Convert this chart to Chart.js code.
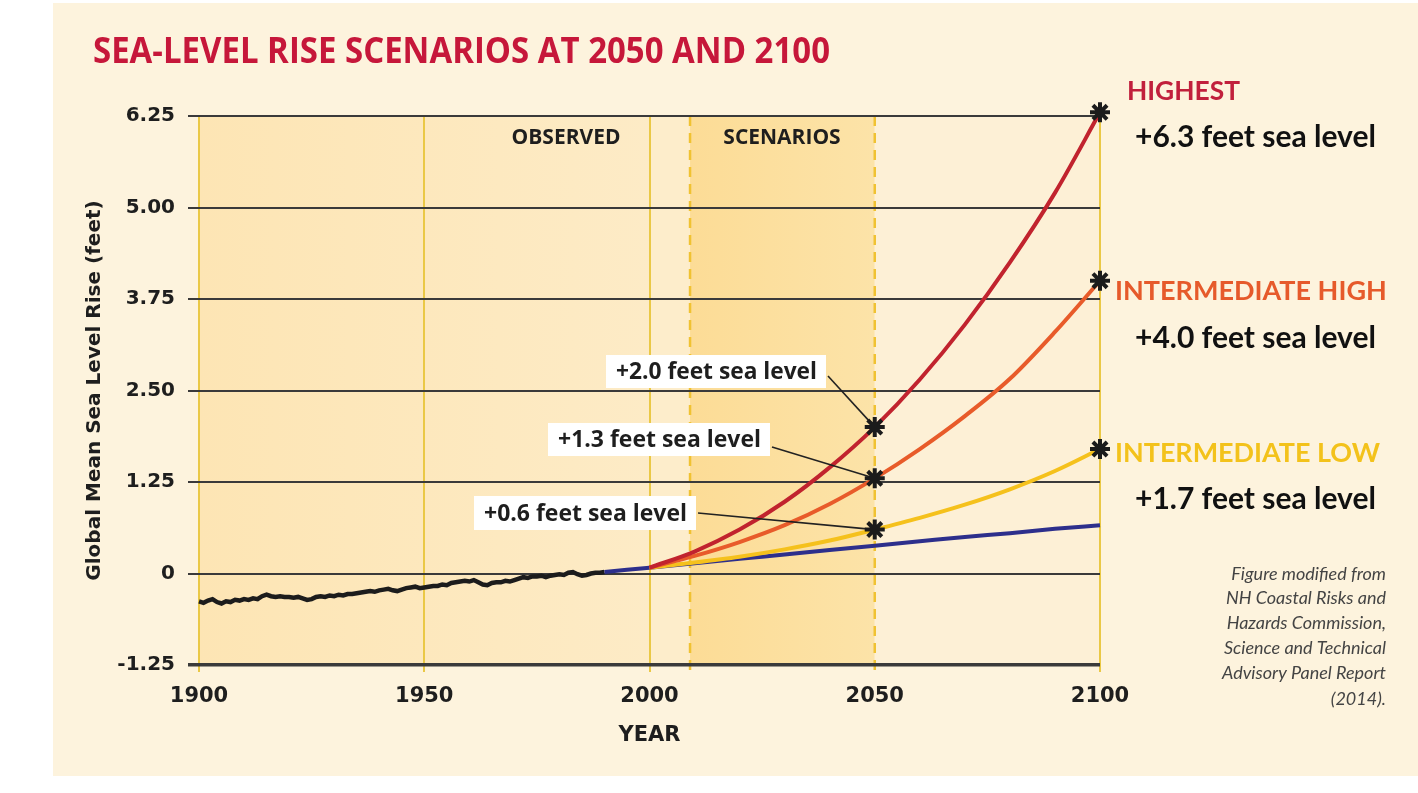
<!DOCTYPE html>
<html>
<head>
<meta charset="utf-8">
<script src="https://cdn.jsdelivr.net/npm/chart.js@4.4.1/dist/chart.umd.min.js"></script>
<style>
  html, body { margin: 0; padding: 0; background: #ffffff; }
  #wrap { width: 1418px; height: 793px; }
</style>
</head>
<body>
<div id="wrap"><canvas id="chart" width="1418" height="793"></canvas></div>
<script>
// Observed global mean sea level, 1900-1990 (feet)
const observedYears = [
  1900, 1901, 1902, 1903, 1904, 1905, 1906, 1907, 1908, 1909,
  1910, 1911, 1912, 1913, 1914, 1915, 1916, 1917, 1918, 1919,
  1920, 1921, 1922, 1923, 1924, 1925, 1926, 1927, 1928, 1929,
  1930, 1931, 1932, 1933, 1934, 1935, 1936, 1937, 1938, 1939,
  1940, 1941, 1942, 1943, 1944, 1945, 1946, 1947, 1948, 1949,
  1950, 1951, 1952, 1953, 1954, 1955, 1956, 1957, 1958, 1959,
  1960, 1961, 1962, 1963, 1964, 1965, 1966, 1967, 1968, 1969,
  1970, 1971, 1972, 1973, 1974, 1975, 1976, 1977, 1978, 1979,
  1980, 1981, 1982, 1983, 1984, 1985, 1986, 1987, 1988, 1989,
  1990
];
const observedRise = [
  -0.38, -0.40, -0.37, -0.35, -0.39, -0.41, -0.38, -0.39, -0.36, -0.37,
  -0.35, -0.36, -0.34, -0.35, -0.31, -0.29, -0.31, -0.32, -0.31, -0.32,
  -0.32, -0.33, -0.32, -0.34, -0.36, -0.35, -0.32, -0.31, -0.32, -0.30,
  -0.31, -0.29, -0.30, -0.28, -0.28, -0.27, -0.26, -0.25, -0.24, -0.25,
  -0.23, -0.22, -0.21, -0.23, -0.24, -0.22, -0.20, -0.19, -0.18, -0.20,
  -0.19, -0.18, -0.17, -0.17, -0.15, -0.16, -0.13, -0.12, -0.11, -0.10,
  -0.11, -0.09, -0.12, -0.15, -0.16, -0.13, -0.12, -0.12, -0.10, -0.11,
  -0.09, -0.07, -0.05, -0.06, -0.04, -0.04, -0.03, -0.05, -0.03, -0.02,
  -0.01, -0.02, 0.01, 0.02, -0.01, -0.03, -0.02, 0.00, 0.01, 0.01,
  0.02
];

// Lowest scenario (blue), starts where the observed record ends
const lowYears = [1990, 2000, 2010, 2020, 2030, 2040, 2050, 2060, 2070, 2080, 2090, 2100];
const lowRise = [0.02, 0.08, 0.14, 0.20, 0.26, 0.32, 0.38, 0.44, 0.50, 0.55, 0.61, 0.66];

// Other scenarios
const scenarioYears = [2000, 2010, 2020, 2030, 2040, 2050, 2060, 2070, 2080, 2090, 2100];
const intLowRise = [0.08, 0.15, 0.23, 0.33, 0.45, 0.60, 0.76, 0.94, 1.15, 1.40, 1.70];
const intHighRise = [0.08, 0.24, 0.43, 0.66, 0.95, 1.30, 1.70, 2.15, 2.66, 3.30, 4.00];
const highestRise = [0.08, 0.30, 0.60, 0.98, 1.45, 2.00, 2.65, 3.40, 4.25, 5.20, 6.30];

// Asterisks at 2050 and 2100
const markerYears = [2050, 2050, 2050, 2100, 2100, 2100];
const markerRise = [2.0, 1.3, 0.6, 6.3, 4.0, 1.7];

const xTicks = [1900, 1950, 2000, 2050, 2100];
const yTicks = [-1.25, 0, 1.25, 2.5, 3.75, 5, 6.25];
const yTickLabels = ['-1.25', '0', '1.25', '2.50', '3.75', '5.00', '6.25'];

const scenarioBand = [2009, 2050];

const pts = (xs, ys) => xs.map((x, i) => ({ x: x, y: ys[i] }));

function txt(ctx, s, x, y, font, color, align, maxW) {
    ctx.font = font;
    ctx.fillStyle = color;
    ctx.textAlign = align || 'left';
    ctx.textBaseline = 'middle';
    if (maxW) ctx.fillText(s, x, y, maxW);
    else ctx.fillText(s, x, y);
}

// Page background, shaded periods and the dashed scenario edges
const backdrop = {
    id: 'backdrop',
    beforeDraw(chart) {
        const { ctx } = chart;
        const xs = chart.scales.x, ys = chart.scales.y;
        ctx.save();
        ctx.fillStyle = '#ffffff';
        ctx.fillRect(0, 0, chart.width, chart.height);
        ctx.fillStyle = '#fdf3dd';
        ctx.fillRect(53, 3, chart.width - 53, 773);

        const top = ys.getPixelForValue(6.25), bot = ys.getPixelForValue(-1.25);
        const p1900 = xs.getPixelForValue(1900);
        const p2000 = xs.getPixelForValue(2000);
        const pS = xs.getPixelForValue(scenarioBand[0]);
        const pE = xs.getPixelForValue(scenarioBand[1]);
        const p2100 = xs.getPixelForValue(2100);

        let g = ctx.createLinearGradient(p1900, 0, p2000, 0);
        g.addColorStop(0, '#fde5b4');
        g.addColorStop(1, '#fdebc6');
        ctx.fillStyle = g;
        ctx.fillRect(p1900, top, p2000 - p1900, bot - top);
        ctx.fillStyle = '#fdedcb';
        ctx.fillRect(p2000, top, pS - p2000, bot - top);
        g = ctx.createLinearGradient(pS, 0, pE, 0);
        g.addColorStop(0, '#fcdc96');
        g.addColorStop(1, '#fce3a8');
        ctx.fillStyle = g;
        ctx.fillRect(pS, top, pE - pS, bot - top);
        ctx.fillStyle = '#fdf0d6';
        ctx.fillRect(pE, top, p2100 - pE, bot - top);

        // the 2100 rule runs up to the highest asterisk
        ctx.strokeStyle = '#eac846';
        ctx.lineWidth = 2;
        ctx.beginPath();
        ctx.moveTo(p2100, top);
        ctx.lineTo(p2100, ys.getPixelForValue(markerRise[3]) - 8);
        ctx.stroke();

        ctx.strokeStyle = '#f0c232';
        ctx.lineWidth = 2.5;
        ctx.setLineDash([10, 7]);
        for (const px of [pS, pE]) {
            ctx.beginPath();
            ctx.moveTo(px, top);
            ctx.lineTo(px, bot + 7);
            ctx.stroke();
        }
        ctx.restore();
    }
};

// Leader lines from the 2050 call-outs to the asterisks (under the asterisks)
const leaders = {
    id: 'leaders',
    afterDatasetDraw(chart, args) {
        if (args.index !== 1) return;
        const { ctx } = chart;
        const xs = chart.scales.x, ys = chart.scales.y;
        const starts = [[828, 376], [772, 447], [698, 513]];
        ctx.save();
        ctx.strokeStyle = '#222';
        ctx.lineWidth = 1.6;
        starts.forEach((s, i) => {
            ctx.beginPath();
            ctx.moveTo(s[0], s[1]);
            ctx.lineTo(xs.getPixelForValue(markerYears[i]), ys.getPixelForValue(markerRise[i]));
            ctx.stroke();
        });
        ctx.restore();
    }
};

// Title, band names, call-out boxes, right-hand labels and the source note
const labels = {
    id: 'labels',
    afterDraw(chart) {
        const { ctx } = chart;
        ctx.save();
        txt(ctx, 'SEA-LEVEL RISE SCENARIOS AT 2050 AND 2100', 93, 53, 'bold 35px "Open Sans"', '#c6173a', 'left', 737);

        txt(ctx, 'OBSERVED', 566, 138, 'bold 21px "Open Sans"', '#1e1e1e', 'center', 110);
        txt(ctx, 'SCENARIOS', 782, 138, 'bold 21px "Open Sans"', '#1e1e1e', 'center', 122);

        const boxes = [
            ['+2.0 feet sea level', 606, 355, 220, 33],
            ['+1.3 feet sea level', 548, 423, 222, 33],
            ['+0.6 feet sea level', 474, 496, 222, 34]
        ];
        for (const b of boxes) {
            ctx.fillStyle = '#ffffff';
            ctx.fillRect(b[1], b[2], b[3], b[4]);
            txt(ctx, b[0], b[1] + 10, b[2] + b[4] / 2 + 1, 'bold 23px "Open Sans"', '#1e1e1e', 'left', b[3] - 19);
        }

        txt(ctx, 'HIGHEST', 1127, 91, 'bold 27px Lato', '#c1203c', 'left', 113);
        txt(ctx, '+6.3 feet sea level', 1135, 137, 'bold 30px Lato', '#111111', 'left', 251);
        txt(ctx, 'INTERMEDIATE HIGH', 1115, 291, 'bold 27px Lato', '#e65a2b', 'left', 272);
        txt(ctx, '+4.0 feet sea level', 1135, 338, 'bold 30px Lato', '#111111', 'left', 251);
        txt(ctx, 'INTERMEDIATE LOW', 1115, 453, 'bold 27px Lato', '#f3c21b', 'left', 265);
        txt(ctx, '+1.7 feet sea level', 1135, 499, 'bold 30px Lato', '#111111', 'left', 251);

        const note = ['Figure modified from', 'NH Coastal Risks and', 'Hazards Commission,',
            'Science and Technical', 'Advisory Panel Report', '(2014).'];
        const noteY = [574, 598, 623, 648, 673, 699];
        note.forEach((s, i) => txt(ctx, s, 1386, noteY[i], 'italic 18px Lato', '#444444', 'right'));
        ctx.restore();
    }
};

Chart.defaults.font.family = '"DejaVu Sans"';
Chart.defaults.color = '#1e1e1e';

const lineStyle = (color) => ({
    showLine: true,
    borderColor: color,
    backgroundColor: color,
    borderWidth: 4,
    pointRadius: 0,
    cubicInterpolationMode: 'monotone',
    clip: false
});

new Chart(document.getElementById('chart'), {
    type: 'scatter',
    data: {
        datasets: [
            {
                label: 'Markers',
                data: pts(markerYears, markerRise),
                pointStyle: 'star',
                pointRadius: 10,
                borderWidth: 4,
                borderColor: '#1b1b1b',
                backgroundColor: '#1b1b1b',
                clip: false
            },
            Object.assign({ label: 'Highest', data: pts(scenarioYears, highestRise) }, lineStyle('#c1232e')),
            Object.assign({ label: 'Intermediate High', data: pts(scenarioYears, intHighRise) }, lineStyle('#e85b2a')),
            Object.assign({ label: 'Intermediate Low', data: pts(scenarioYears, intLowRise) }, lineStyle('#f5c11c')),
            Object.assign({ label: 'Lowest', data: pts(lowYears, lowRise) }, lineStyle('#2d2f8c')),
            {
                label: 'Observed',
                data: pts(observedYears, observedRise),
                showLine: true,
                borderColor: '#1c1c1c',
                borderWidth: 4.5,
                pointRadius: 0,
                tension: 0,
                clip: false
            }
        ]
    },
    options: {
        responsive: false,
        animation: false,
        layout: { padding: { left: 60, right: 318, top: 116, bottom: 28 } },
        plugins: {
            legend: { display: false },
            tooltip: { enabled: false }
        },
        scales: {
            x: {
                type: 'linear',
                min: 1900,
                max: 2100,
                afterBuildTicks: (scale) => { scale.ticks = xTicks.map(v => ({ value: v })); },
                afterFit: (scale) => { scale.height = 100; },
                ticks: {
                    callback: (v) => String(v),
                    font: { size: 21, weight: 'bold' },
                    color: '#1e1e1e',
                    padding: 12,
                    maxRotation: 0
                },
                grid: {
                    color: (c) => (c.tick && c.tick.value === scenarioBand[1]) ? 'rgba(0,0,0,0)' : '#eac846',
                    lineWidth: 2,
                    tickLength: 7
                },
                border: { display: false },
                title: {
                    display: true,
                    text: 'YEAR',
                    font: { size: 21, weight: 'bold' },
                    color: '#1e1e1e',
                    padding: { top: 0, bottom: 17 }
                }
            },
            y: {
                type: 'linear',
                min: -1.25,
                max: 6.25,
                afterBuildTicks: (scale) => { scale.ticks = yTicks.map(v => ({ value: v })); },
                afterFit: (scale) => { scale.width = 139; },
                ticks: {
                    callback: (v, i) => yTickLabels[i],
                    font: { size: 20, weight: 'bold' },
                    color: '#1e1e1e',
                    padding: 13
                },
                grid: {
                    color: '#3a3a3a',
                    lineWidth: (c) => (c.tick && c.tick.value === -1.25) ? 3.5 : 2,
                    tickLength: 11
                },
                border: { display: false },
                title: {
                    display: true,
                    text: 'Global Mean Sea Level Rise (feet)',
                    font: { size: 20, weight: 'bold' },
                    color: '#1e1e1e',
                    padding: { top: 23, bottom: 0 }
                }
            }
        }
    },
    plugins: [backdrop, leaders, labels]
});
</script>
</body>
</html>
